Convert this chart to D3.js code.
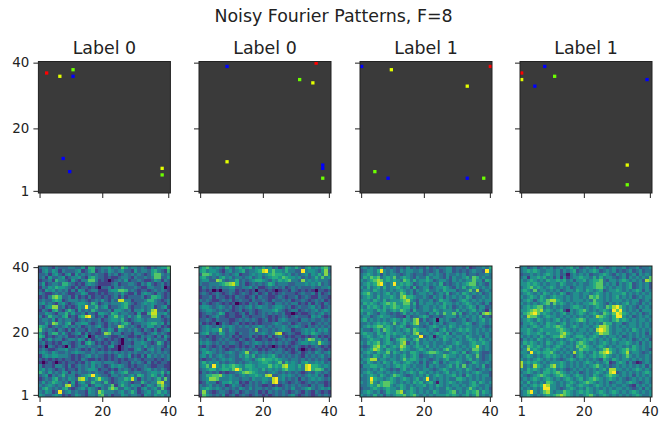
<!DOCTYPE html>
<html>
<head>
<meta charset="utf-8">
<script src="https://cdn.jsdelivr.net/npm/d3@7"></script>
<style>
body { margin: 0; background: #fff; }
text { font-family: "DejaVu Sans", sans-serif; fill: #222; }
</style>
</head>
<body>
<script>
// Values. Heatmap rows run top (40) to bottom (1), one digit per cell, 0 dark to 9 bright
const mainTitle = "Noisy Fourier Patterns, F=8";
const labels = ["Label 0", "Label 0", "Label 1", "Label 1"];
const tickLabels = [1, 20, 40];
const pointColors = { r: "#ff0000", y: "#e4ff00", g: "#6cff00", b: "#0000ff" };
// each heatmap is normalised on its own, so the digits need a different curve per panel
const heatGamma = [0.75, 0.8, 1.2, 1.2];

const points0 = [[3,37,"r"],[7,36,"y"],[11,38,"g"],[11,36,"b"],[8,11,"b"],[10,7,"b"],[38,8,"y"],[38,6,"g"]];
const points1 = [[9,39,"b"],[36,40,"r"],[31,35,"g"],[35,34,"y"],[9,10,"y"],[38,9,"b"],[38,8,"b"],[38,5,"g"]];
const points2 = [[1,39,"b"],[10,38,"y"],[40,39,"r"],[33,33,"y"],[5,7,"g"],[9,5,"b"],[33,5,"b"],[38,5,"g"]];
const points3 = [[1,37,"r"],[1,35,"y"],[8,39,"b"],[11,36,"g"],[5,33,"b"],[39,35,"b"],[33,9,"y"],[33,3,"g"]];

const heat0 = [
"2332132223 3224155223 3423264233 2321323446","1342431322 2341245123 2432342214 2332453215",
"2231342134 1423232322 1323123232 3212466323","2314223412 3342145322 1211233213 2232366224",
"1223153321 4213366312 1012324122 3211243132","2412332553 2121343211 1123122332 1324212312",
"1324354432 1312212102 2313232223 2113322301","2143423231 3143123311 1344665232 1221232321",
"3211232321 1224311212 1223242113 1343213212","1213675223 1312131221 2123131222 2312554212",
"2322454123 3323212324 2132883312 2235532123","3423213421 2344325312 3233345321 2343432213",
"2134772312 1243933523 4122345212 2323412341","1321452135 3142325322 2314432313 3423782213",
"2243213352 4223132144 3254233221 4115883342","3125332451 2145893123 1346342423 5222773123",
"2332413233 2123232231 2344352123 4323333212","2242763245 1334421232 1323245312 2334553413",
"5431232342 3231232342 1322763232 1324423121","6323213213 1322132213 2431432323 2132131234",
"4213552421 2341312112 7623312213 3212342321","5412123231 1212401322 3211232112 1323213142",
"3124233123 3243131232 1212102323 2314232231","2312121332 1231453121 2132102213 3432125312",
"1203212103 1233232232 1341012323 3242323213","2321123342 2321213212 1211012113 4213423122",
"3432432232 3433223233 2323232323 2232323232","1343443332 1212342322 1212432412 1314232323",
"2121212122 1213211212 1212121223 2122212123","1012101212 2121324332 3332122132 3213121221",
"3122133213 1232324232 1243432121 2232112211","3423212312 2132344312 2121323212 1234232321",
"5324232431 3232232322 1242345223 3223443524","2341323523 3123459432 2133232342 5423542412",
"1232452324 3278423574 3212335483 1323235262","2423543231 4134225332 5212343212 2532337822",
"3234323278 3123412443 2361353243 3124325732","2453232452 1234243213 2575224323 1342342621",
"3243129234 2322143275 3332342353 1234235342","4322343121 2432133256 2312243233 2143243423"
];
const heat1 = [
"3564343253 2453452435 3423125435 3245343563","4534432134 2345233458 9464435332 2934432472",
"2665343232 3412234343 4565543423 2342435373","4532324534 2332342342 3455465443 4232353634",
"3442276323 3523234554 3243545633 2734343332","3223334567 8523123232 3542333223 3343435232",
"1323232334 4223342311 2323231232 3222322334","1212010223 3121212022 1210122132 1212102212",
"2321232123 2123212312 3121232221 2322313123","1223132212 1322123132 2112321223 1232113221",
"3232112323 1232213223 2132232312 2321232312","1321232121 2012132312 3213323233 1213132132",
"3443234323 1232342343 3234432312 3223423123","2344323232 1231232123 3345321233 1232342343",
"1233235412 2123132123 2323231101 2112323423","1212342212 2113212223 2121232123 2221434212",
"2232132221 1232323212 3121343222 1332322323","3121201321 2312121212 2234322312 3223123232",
"2343232434 3232323343 2323343234 3213232323","2343447324 3222232723 3232343312 2343424342",
"3452325423 3132233234 3237812321 1343543232","2212122323 1212231212 1312321212 2121231212",
"3232123232 2132123112 2121232321 3247634231","4343232323 3212323432 3232323212 3443437432",
"2132123121 1212123121 2101212123 2121232121","3432323212 2323232212 1232321213 1012123212",
"2454323234 3234723423 2323323212 3123243234","3424234323 3243535234 3453232323 2132323423",
"2122323434 3223432456 5545433233 2323232321","3534342323 3232343345 5434625343 2453343423",
"3463943545 6543554344 4645478443 5389554343","2345534554 6963454435 3434356443 4389566523",
"1323231212 2346765433 2343232323 2123243232","2355667434 3234344543 7822343432 3234342312",
"2347763334 3323324334 4389342323 1323434323","1243312445 3412132324 3289232123 2123232212",
"3234232312 4321232321 1212123232 3221323312","3454343232 3243242332 3234323242 2345323434",
"2732123321 2312322312 1323232123 2132132121","1643232412 3123212321 2123232342 1232123232"
];
const heat2 = [
"4545435343 4343534343 5343445534 4352344546","3455469545 4354554453 4345345534 3434544395",
"4565453545 5434543443 4545435445 4534434454","4657674565 7456543544 6455435354 4564764544",
"5456787565 6547646455 6534554354 5455755365","4565689545 9565653454 5454634345 4567745435",
"5464564645 5654536345 5345565435 4645654545","4554654545 4565453545 6445465553 4457483454",
"5675454564 5476453455 4534546345 4654545345","4565464556 5478665445 4354535454 5465344545",
"5554654645 5567854354 4534655434 5654545455","4656545676 7557746354 5545465545 4565454353",
"5465654656 7656645345 5454564534 5456535534","6555465645 6576536445 5465455546 4545645425",
"5465435543 4346454544 3546475574 6345453787","4553456554 4332534456 5344345553 5454546343",
"5645454545 6546547835 3450545434 4534545645","4454565654 7456457844 5354534554 4565345545",
"4565677565 4565345543 4565454654 5455445434","5443564765 4545647655 4543564545 6565454545",
"5655465465 6554547845 5456546354 4545454454","4565456564 5456455593 4514565545 5465445354",
"4456554563 4677546745 4545465454 5456546545","5465674565 4578354645 5454454456 5445655654",
"4345785645 6587545654 6454545645 4545685454","5456875465 5476544565 4545467545 5454775454",
"4565465574 6545466545 6776544565 4634564334","5454654654 5456456534 4545576554 5465474345",
"4568845545 5457566545 4345456445 5456454345","5465454654 6545654535 3465354556 5434654454",
"3556655454 5656545445 3545445646 4745454634","4454546543 4356454545 5434565445 5465434545",
"4565455454 5454565465 4545456454 5454565443","5456546545 7654345454 6456545564 5365454553",
"4459655456 5456545645 9454545446 6545454544","5458546776 5454546564 5641545654 5445646545",
"4456576775 4565454556 4546545455 4545654454","3445654565 5465465454 4545446545 5457545453",
"4565453465 5784565454 5465445674 5465674654","5454645354 5667567545 4545556565 4564574545"
];
const heat3 = [
"4534534545 3454564534 5453543454 4534453445","4565654455 4535456345 4565345453 4345345344",
"3445454565 4534145454 5344565435 4534535454","4525565645 3525245565 5464645543 4535454547",
"5456545465 5656453556 4566743554 5654545387","5565654545 5465445454 4567745453 5456345453",
"4567565456 5454534554 5567754545 5456345453","5654745545 4534554654 6545634556 5454565354",
"4565454654 5465345545 5456545455 5645454545","5456546545 6554545545 4767545456 4545345455",
"4565356578 8654545554 5475545455 5454553454","5454545674 7565454545 5676543545 4564543545",
"4565677454 5454456654 5456547689 7545435454","5567878565 4563154567 5454565497 9545453555",
"4678975654 5456454565 4565476579 8654545345","5487754565 5454545454 5458765469 9545345454",
"4565465454 5645455676 4555655467 5654545545","3556545465 5456454545 4545476645 5345545454",
"4545654565 6765456545 5456887545 4545545454","5565456555 5676545455 4548987545 5454654545",
"4565565465 5578654554 5456877545 4545454535","5454546545 6687545665 4565454554 5345454544",
"3545465454 5454565456 5654545465 4545345453","4656545465 4565454676 5454565454 5565453545",
"5476565454 5654554767 6545654545 5454654545","4585654565 6545454576 6554578654 5675654543",
"5549565667 5454548564 5465789754 5684554345","4565454565 6545453565 4565676545 4575454454",
"5454565454 5434565454 5454365465 4554545454","8565654545 5565454545 6545456235 6535312454",
"8454865457 8565454545 4567545345 4545454535","5465654565 6454345454 5454564885 5454565454",
"4565454665 6765454534 5456545893 4545454565","5434567654 5676545654 5465456765 4545354545",
"4545654565 4545654564 5676545654 5434545454","5464545476 5454565456 7654545345 5456543454",
"4545656985 5454654565 5456545454 4543254545","5454545995 5434565454 6545454545 5454345354",
"4579545785 4557654565 6545654565 4545654545","4565454565 6787654545 6754565454 5454565445"
];

const width = 672, height = 424;
const lefts = [38.4, 199, 360, 520];
const panelW = 132;
const topY = 61.5, topH = 131.5, botY = 266, botH = 131;
const allPoints = [points0, points1, points2, points3];
const allHeat = [heat0, heat1, heat2, heat3];

const svg = d3.select("body").append("svg")
    .attr("width", width)
    .attr("height", height);

svg.append("defs").append("filter")
    .attr("id", "soft")
    .append("feGaussianBlur")
    .attr("stdDeviation", 0.4);

svg.append("text")
    .attr("x", 333.5).attr("y", 22)
    .attr("text-anchor", "middle")
    .style("font-size", "17.4px")
    .text(mainTitle);

const cells = d3.range(1, 41);

function drawAxes(g, x, y, i, showX, w, h) {
    const ax = d3.axisBottom(x).tickValues(tickLabels).tickSizeInner(5).tickSizeOuter(0).tickPadding(4);
    const ay = d3.axisLeft(y).tickValues(tickLabels).tickSizeInner(5).tickSizeOuter(0).tickPadding(4);
    if (!showX) ax.tickFormat("");
    if (i > 0) ay.tickFormat("");
    g.append("g").attr("transform", `translate(0,${h})`).call(ax);
    g.append("g").call(ay);
    g.selectAll(".domain").attr("stroke", "none");
    g.selectAll(".tick line").attr("stroke", "#222");
    g.selectAll(".tick text").style("font-size", "13.4px");
    g.append("rect").attr("width", w).attr("height", h)
        .attr("fill", "none").attr("stroke", "#222").attr("stroke-width", 1);
}

labels.forEach((label, i) => {
    const x = d3.scaleBand().domain(cells).range([0, panelW]);

    // top row, sparse points on a dark square
    const yTop = d3.scaleBand().domain(cells.slice().reverse()).range([0, topH]);
    const top = svg.append("g").attr("transform", `translate(${lefts[i]},${topY})`);
    top.append("rect").attr("width", panelW).attr("height", topH).attr("fill", "#3a3a3a");
    top.selectAll(".pt")
        .data(allPoints[i])
        .enter()
        .append("rect")
        .attr("class", "pt")
        .attr("x", d => x(d[0]))
        .attr("y", d => yTop(d[1]))
        .attr("width", x.bandwidth())
        .attr("height", yTop.bandwidth())
        .attr("fill", d => pointColors[d[2]]);
    drawAxes(top, x, yTop, i, false, panelW, topH);
    top.append("text")
        .attr("x", panelW / 2).attr("y", -7.5)
        .attr("text-anchor", "middle")
        .style("font-size", "17.4px")
        .text(label);

    // bottom row, heatmap
    const yBot = d3.scaleBand().domain(cells.slice().reverse()).range([0, botH]);
    const bot = svg.append("g").attr("transform", `translate(${lefts[i]},${botY})`);
    const t = d3.scalePow().exponent(heatGamma[i]).domain([0, 9]).range([0, 1]);
    const flat = [];
    allHeat[i].forEach((row, r) => {
        row.replace(/ /g, "").split("").forEach((v, c) => {
            flat.push({ col: c + 1, row: 40 - r, v: +v });
        });
    });
    bot.append("g").attr("filter", "url(#soft)")
        .selectAll(".cell")
        .data(flat)
        .enter()
        .append("rect")
        .attr("class", "cell")
        .attr("x", d => x(d.col))
        .attr("y", d => yBot(d.row))
        .attr("width", x.bandwidth() + 0.4)
        .attr("height", yBot.bandwidth() + 0.4)
        .attr("shape-rendering", "crispEdges")
        .attr("fill", d => d3.interpolateViridis(t(d.v)));
    drawAxes(bot, x, yBot, i, true, panelW, botH);
});
</script>
</body>
</html>
